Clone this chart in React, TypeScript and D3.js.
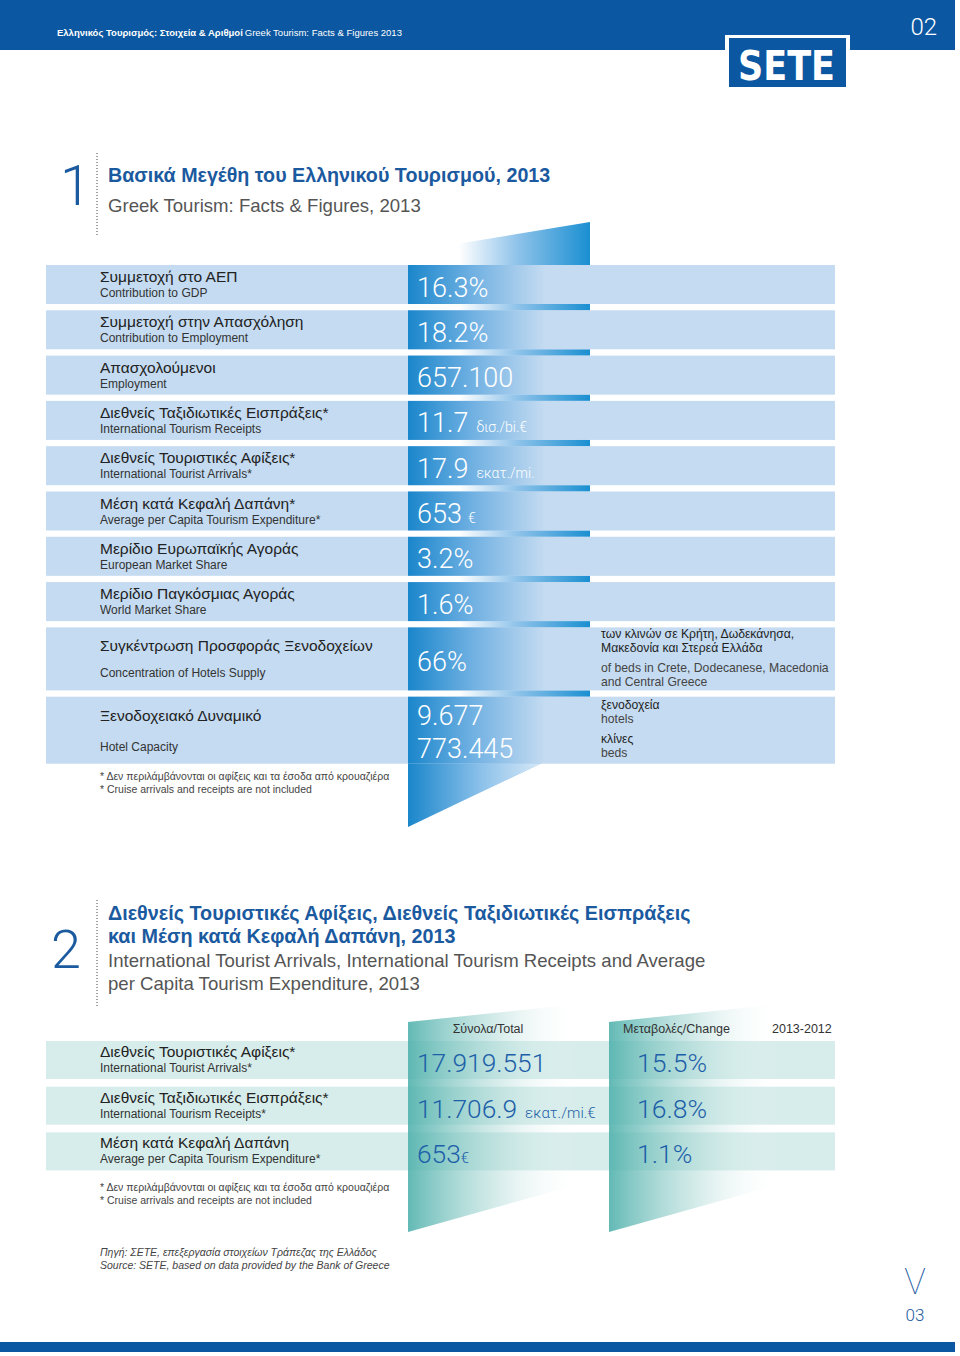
import React from "react";
import * as d3 from "d3";

// ---- section 1: key figures ----
const factLabelsEl = [
  "Συμμετοχή στο ΑΕΠ",
  "Συμμετοχή στην Απασχόληση",
  "Απασχολούμενοι",
  "Διεθνείς Ταξιδιωτικές Εισπράξεις*",
  "Διεθνείς Τουριστικές Αφίξεις*",
  "Μέση κατά Κεφαλή Δαπάνη*",
  "Μερίδιο Ευρωπαϊκής Αγοράς",
  "Μερίδιο Παγκόσμιας Αγοράς",
  "Συγκέντρωση Προσφοράς Ξενοδοχείων",
  "Ξενοδοχειακό Δυναμικό",
];
const factLabelsEn = [
  "Contribution to GDP",
  "Contribution to Employment",
  "Employment",
  "International Tourism Receipts",
  "International Tourist Arrivals*",
  "Average per Capita Tourism Expenditure*",
  "European Market Share",
  "World Market Share",
  "Concentration of Hotels Supply",
  "Hotel Capacity",
];
const factValues = [
  ["16.3%"], ["18.2%"], ["657.100"], ["11.7"], ["17.9"], ["653"],
  ["3.2%"], ["1.6%"], ["66%"], ["9.677", "773.445"],
];
const factUnits = ["", "", "", "δισ./bi.€", "εκατ./mi.", "€", "", "", "", ""];
const factNotes = [
  [], [], [], [], [], [], [], [],
  [
    ["των κλινών σε Κρήτη, Δωδεκάνησα,", "Μακεδονία και Στερεά Ελλάδα"],
    ["of beds in Crete, Dodecanese, Macedonia", "and Central Greece"],
  ],
  [
    ["ξενοδοχεία", "hotels"],
    ["κλίνες", "beds"],
  ],
];
const footnotes = [
  "* Δεν περιλάμβάνονται οι αφίξεις και τα έσοδα από κρουαζιέρα",
  "* Cruise arrivals and receipts are not included",
];

// ---- section 2: arrivals / receipts ----
const flowColumns = ["Σύνολα/Total", "Μεταβολές/Change", "2013-2012"];
const flowLabelsEl = [
  "Διεθνείς Τουριστικές Αφίξεις*",
  "Διεθνείς Ταξιδιωτικές Εισπράξεις*",
  "Μέση κατά Κεφαλή Δαπάνη",
];
const flowLabelsEn = [
  "International Tourist Arrivals*",
  "International Tourism Receipts*",
  "Average per Capita Tourism Expenditure*",
];
const flowTotals = ["17.919.551", "11.706.9", "653"];
const flowUnits = ["", "εκατ./mi.€", "€"];
const flowChanges = [15.5, 16.8, 1.1];
const sourceLines = [
  "Πηγή: ΣΕΤΕ, επεξεργασία στοιχείων Τράπεζας της Ελλάδος",
  "Source: SETE, based on data provided by the Bank of Greece",
];

const W = 960;
const H = 1356;
const BAR = "#0b57a1";
const TITLE = "#1b5a9f";
const NUMBLUE = "#1d5fa8";
const ROW1 = "#c4dbf1";
const ROW2 = "#d7edeb";
const SANS = "'Liberation Sans', Arial, sans-serif";
const LIGHT = "Roboto, 'Liberation Sans', sans-serif";

const isGreek = (s: string) => /[\u0370-\u03FF]/.test(s);
const fmtPct = (v: number) => d3.format(".1f")(v) + "%";
const poly = d3.line().curve(d3.curveLinearClosed);

export default function App() {
  // layout
  const rowX0 = 46, rowX1 = 835, cellX0 = 408, cellX1 = 590;
  const labelX = 100, noteX = 601;
  const factHeights = factLabelsEl.map((_, i) => (i === 8 ? 63 : i === 9 ? 67 : 39));
  const factTops = factHeights.map((_, i) => 265 + d3.sum(factHeights.slice(0, i)) + i * 6.3);
  const lastBottom = factTops[9] + factHeights[9];

  const shape1: [number, number][] = [[cellX0, 252], [cellX1, 222], [cellX1, 740], [cellX0, 827]];
  const bottomEdge = d3.scaleLinear().domain([827, 740]).range([cellX0, cellX1]);
  const wedge: [number, number][] = [[cellX0, lastBottom], [bottomEdge(lastBottom), lastBottom], [cellX0, 827]];

  const flowY = d3.scaleLinear().domain([0, 1]).range([1041, 1086.7]);
  const flowH = 38;
  const colA = 408, colB = 609, colW = 172;
  const tealShape = (x: number): [number, number][] => [
    [x, 1022], [x + colW, 1004], [x + colW, 1184], [x, 1232],
  ];

  return (
    <svg width={W} height={H} style={{ position: "absolute", left: 0, top: 0, background: "#fff" }}>
      <defs>
        <linearGradient id="gapGrad" x1="0" x2="1" y1="0" y2="0">
          <stop offset="0" stopColor="#ffffff" />
          <stop offset="0.28" stopColor="#ffffff" />
          <stop offset="0.6" stopColor="#8fc3ea" />
          <stop offset="1" stopColor="#1a8fd1" />
        </linearGradient>
        <linearGradient id="cellGrad" x1="0" x2="1" y1="0" y2="0">
          <stop offset="0" stopColor="#1a86cb" />
          <stop offset="0.35" stopColor="#6fb0e2" />
          <stop offset="0.75" stopColor={ROW1} />
          <stop offset="1" stopColor={ROW1} />
        </linearGradient>
        <linearGradient id="wedgeGrad" x1="0" x2="1" y1="0" y2="0">
          <stop offset="0" stopColor="#1a86cb" />
          <stop offset="0.55" stopColor="#8cc1ea" />
          <stop offset="1" stopColor="#d6e8f7" />
        </linearGradient>
        <linearGradient id="tealGrad" x1="0" x2="1" y1="0" y2="0">
          <stop offset="0" stopColor="#4db0ab" stopOpacity="0.88" />
          <stop offset="0.5" stopColor="#9dd2ce" stopOpacity="0.45" />
          <stop offset="1" stopColor="#ffffff" stopOpacity="0" />
        </linearGradient>
        <clipPath id="shape1Clip">
          <path d={poly(shape1) || ""} />
        </clipPath>
      </defs>

      {/* header */}
      <rect x={0} y={0} width={955} height={50} fill={BAR} />
      <text x={57} y={36} fontFamily={SANS} fontSize={9.5} fill="#fff">
        <tspan fontWeight="bold">Ελληνικός Τουρισμός: Στοιχεία &amp; Αριθμοί</tspan>
        <tspan dx={2}>Greek Tourism: Facts &amp; Figures 2013</tspan>
      </text>
      <text x={937} y={35} textAnchor="end" fontFamily={LIGHT} fontWeight={300} fontSize={24} fill="#fff">02</text>
      <rect x={725} y={35} width={125} height={55} fill="#fff" />
      <rect x={729} y={38} width={117} height={49} fill={BAR} />
      <text x={738} y={80} fontFamily="'DejaVu Sans', sans-serif" fontWeight="bold" fontSize={40}
        textLength={97} lengthAdjust="spacingAndGlyphs" fill="#fff">SETE</text>

      {/* section 1 title */}
      <text x={60} y={205} fontFamily={LIGHT} fontWeight={300} fontSize={56} fill={TITLE}>1</text>
      <line x1={97} x2={97} y1={153} y2={237} stroke="#444" strokeWidth={1} strokeDasharray="1 2" />
      <text x={108} y={182} fontFamily={SANS} fontWeight="bold" fontSize={19.7} fill={TITLE}>
        Βασικά Μεγέθη του Ελληνικού Τουρισμού, 2013
      </text>
      <text x={108} y={212} fontFamily={SANS} fontSize={18.6} fill="#555">Greek Tourism: Facts &amp; Figures, 2013</text>

      {/* section 1 funnel + rows */}
      <path d={poly(shape1) || ""} fill="url(#gapGrad)" />
      {factTops.map((t, i) => (
        <rect key={"r" + i} x={rowX0} y={t} width={rowX1 - rowX0} height={factHeights[i]} fill={ROW1} />
      ))}
      <g clipPath="url(#shape1Clip)">
        {factTops.map((t, i) => (
          <rect key={"c" + i} x={cellX0} y={t} width={cellX1 - cellX0} height={factHeights[i]} fill="url(#cellGrad)" />
        ))}
      </g>
      <path d={poly(wedge) || ""} fill="url(#wedgeGrad)" />

      {factTops.map((t, i) => {
        const h = factHeights[i];
        const tall = h > 39;
        const elY = tall ? t + 24 : t + 17;
        const enY = tall ? t + h - 13 : t + 32;
        const vals = factValues[i];
        const groups = factNotes[i];
        const nLines = d3.sum(groups, (g) => g.length);
        const span = (nLines - groups.length) * 14 + (groups.length - 1) * 20;
        let ny = t + (h - span) / 2 + 3;
        return (
          <g key={"t" + i}>
            <text x={labelX} y={elY} fontFamily={SANS} fontSize={15.5} fill="#222">{factLabelsEl[i]}</text>
            <text x={labelX} y={enY} fontFamily={SANS} fontSize={12} fill="#333">{factLabelsEn[i]}</text>
            {vals.map((v, j) => (
              <text key={j} x={417} y={vals.length > 1 ? t + 28 + j * 33 : t + h / 2 + 12}
                fontFamily={LIGHT} fontWeight={300} fontSize={27} fill="#fff">
                {v}
                {factUnits[i] && (
                  <tspan fontSize={14} dx={factUnits[i] === "€" ? 6 : 8}>{factUnits[i]}</tspan>
                )}
              </text>
            ))}
            {groups.map((g, gi) => {
              if (gi > 0) ny += 20 - 14;
              return g.map((line, li) => {
                const y = ny;
                ny += 14;
                return (
                  <text key={gi + "-" + li} x={noteX} y={y} fontFamily={SANS} fontSize={12.2}
                    fill={isGreek(line) ? "#1e1e1e" : "#444"}>{line}</text>
                );
              });
            })}
          </g>
        );
      })}
      {footnotes.map((f, i) => (
        <text key={"f" + i} x={labelX} y={780 + i * 13} fontFamily={SANS} fontSize={10.5} fill="#444">{f}</text>
      ))}

      {/* section 2 title */}
      <text x={51} y={968} fontFamily={LIGHT} fontWeight={300} fontSize={54} fill={TITLE}>2</text>
      <line x1={97} x2={97} y1={900} y2={1006} stroke="#444" strokeWidth={1} strokeDasharray="1 2" />
      <text fontFamily={SANS} fontWeight="bold" fontSize={19.8} fill={TITLE}>
        <tspan x={108} y={920}>Διεθνείς Τουριστικές Αφίξεις, Διεθνείς Ταξιδιωτικές Εισπράξεις</tspan>
        <tspan x={108} y={943}>και Μέση κατά Κεφαλή Δαπάνη, 2013</tspan>
      </text>
      <text fontFamily={SANS} fontSize={18.6} fill="#555">
        <tspan x={108} y={967}>International Tourist Arrivals, International Tourism Receipts and Average</tspan>
        <tspan x={108} y={990}>per Capita Tourism Expenditure, 2013</tspan>
      </text>

      {/* section 2 table */}
      {flowLabelsEl.map((_, i) => (
        <rect key={"fr" + i} x={rowX0} y={flowY(i)} width={rowX1 - rowX0} height={flowH} fill={ROW2} />
      ))}
      <path d={poly(tealShape(colA)) || ""} fill="url(#tealGrad)" />
      <path d={poly(tealShape(colB)) || ""} fill="url(#tealGrad)" />
      <text x={488} y={1033} textAnchor="middle" fontFamily={SANS} fontSize={12.5} fill="#333">{flowColumns[0]}</text>
      <text x={623} y={1033} fontFamily={SANS} fontSize={12.5} fill="#333">{flowColumns[1]}</text>
      <text x={772} y={1033} fontFamily={SANS} fontSize={12.5} fill="#333">{flowColumns[2]}</text>
      {flowLabelsEl.map((l, i) => {
        const t = flowY(i);
        return (
          <g key={"ft" + i}>
            <text x={labelX} y={t + 16} fontFamily={SANS} fontSize={15.5} fill="#222">{l}</text>
            <text x={labelX} y={t + 31} fontFamily={SANS} fontSize={12} fill="#333">{flowLabelsEn[i]}</text>
            <text x={417} y={t + 31} fontFamily={LIGHT} fontWeight={300} fontSize={26.3} fill={NUMBLUE}>
              {flowTotals[i]}
              {flowUnits[i] && (
                <tspan fontSize={15} dx={flowUnits[i] === "€" ? 0 : 8}>{flowUnits[i]}</tspan>
              )}
            </text>
            <text x={637} y={t + 31} fontFamily={LIGHT} fontWeight={300} fontSize={26.5} fill={NUMBLUE}>
              {fmtPct(flowChanges[i])}
            </text>
          </g>
        );
      })}
      {footnotes.map((f, i) => (
        <text key={"f2" + i} x={labelX} y={1191 + i * 13} fontFamily={SANS} fontSize={10.5} fill="#444">{f}</text>
      ))}
      {sourceLines.map((s, i) => (
        <text key={"s" + i} x={labelX} y={1256 + i * 13} fontFamily={SANS} fontStyle="italic" fontSize={10.5} fill="#444">{s}</text>
      ))}

      {/* page marker */}
      <text x={915} y={1294} textAnchor="middle" fontFamily={LIGHT} fontWeight={100} fontSize={36} fill={TITLE}>V</text>
      <text x={915} y={1321} textAnchor="middle" fontFamily={LIGHT} fontWeight={300} fontSize={17} fill={TITLE}>03</text>
      <rect x={0} y={1342} width={955} height={10} fill={BAR} />
    </svg>
  );
}
